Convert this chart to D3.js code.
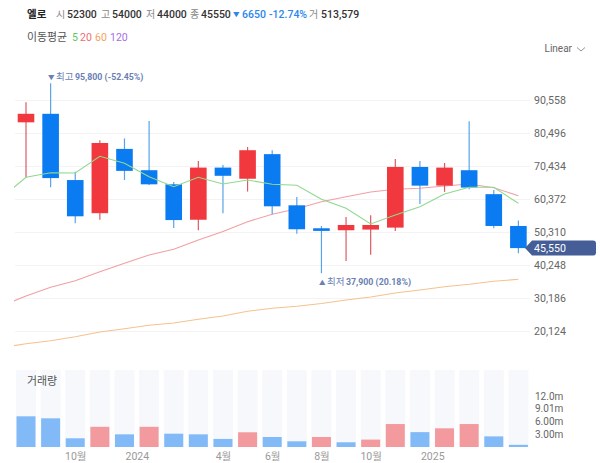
<!DOCTYPE html>
<html>
<head>
<meta charset="utf-8">
<script src="https://cdn.jsdelivr.net/npm/d3@7"></script>
<style>
  html, body { margin: 0; padding: 0; background: #fff; }
  svg { display: block; }
  text { font-family: Roboto, "Noto Sans CJK KR", sans-serif; }
</style>
</head>
<body>
<svg id="chart" width="600" height="463"></svg>
<script>
// monthly candles, Aug 2023 .. Apr 2025
const opens  = [83900, 86500, 66300, 56200, 75800, 69300, 65000, 54200, 70100, 66700, 74200, 58600, 51600, 51000, 51200, 51800, 70300, 64600, 69300, 62000, 52300];
const highs  = [90000, 95800, 68800, 78400, 79000, 84300, 65700, 72100, 70900, 76400, 75400, 61100, 52300, 55000, 55600, 72700, 72100, 71500, 84200, 63300, 54000];
const lows   = [67100, 64100, 53100, 54200, 66300, 64800, 51700, 51000, 56200, 62800, 55900, 49900, 37900, 41600, 43500, 50800, 59000, 62700, 63500, 51600, 44000];
const closes = [86500, 66900, 55250, 77600, 69100, 65000, 54100, 70100, 67600, 75400, 58300, 51300, 50800, 52600, 52600, 70300, 64600, 70100, 64000, 52300, 45550];
const volumes = [7.22, 6.75, 2.05, 4.75, 2.98, 4.75, 3.13, 2.98, 1.9, 3.46, 2.35, 1.34, 2.35, 1.11, 1.74, 5.4, 3.5, 4.4, 5.4, 2.5, 0.51];
// volume bars keep their own colour, it does not always follow the candle
const volumeUp = [0, 0, 0, 1, 0, 1, 0, 0, 0, 1, 0, 0, 1, 0, 1, 1, 0, 1, 1, 0, 0];

// moving averages, first value belongs to the month before the first candle (clipped)
const ma5  = [60900, 67140, 68540, 68450, 73545, 71410, 67325, 64275, 67140, 65100, 66320, 65010, 64700, 60430, 57690, 52900, 55650, 58180, 62050, 64090, 64090, 59210];
const ma20 = [27840, 30950, 33600, 35615, 38360, 40920, 43450, 45190, 48025, 50615, 53600, 55860, 57540, 59700, 61230, 62660, 63480, 63790, 64490, 65100, 63970, 61530];
const ma60 = [15160, 16410, 17320, 18540, 19970, 20980, 22020, 22720, 23850, 24850, 26280, 27200, 27810, 28660, 29730, 30650, 31870, 32780, 33790, 34520, 35430, 36040];

const priceTicks = [90558, 80496, 70434, 60372, 50310, 40248, 30186, 20124];
const volumeTicks = [3, 6, 9.01, 12];
const volumeLabels = ["3.00m", "6.00m", "9.01m", "12.0m"];
const timePositions = [2, 4.5, 8, 10, 12, 14, 16.5];
const timeLabels = ["10월", "2024", "4월", "6월", "8월", "10월", "2025"];

const UP = "#f0383e", DOWN = "#0a7bf0";
const UP_VOL = "#f29a9e", DOWN_VOL = "#82baf8";

const svg = d3.select("#chart");

const x = d3.scaleLinear().domain([0, 20]).range([26, 518.4]);
const y = d3.scaleLinear().domain([20124, 90558]).range([331.5, 100.5]);
const yVol = d3.scaleLinear().domain([0, 12]).range([447, 396]);

svg.append("defs").append("clipPath").attr("id", "plot-clip")
  .append("rect").attr("x", 14).attr("y", 60).attr("width", 516).attr("height", 300);

// price axis + grid
const priceAxis = svg.append("g")
  .attr("transform", "translate(534,0)")
  .call(d3.axisRight(y).tickValues(priceTicks).tickSize(0).tickPadding(0).tickFormat(d3.format(",")));
priceAxis.select(".domain").remove();
priceAxis.selectAll("text").attr("font-size", 10.6).attr("fill", "#666");

svg.append("g").selectAll("line")
  .data(priceTicks)
  .enter()
  .append("line")
  .attr("x1", 15)
  .attr("x2", 530)
  .attr("y1", (d) => y(d))
  .attr("y2", (d) => y(d))
  .attr("stroke", "#f3f3f5");

// moving averages
const maLine = d3.line()
  .x((d, i) => x(i - 1))
  .y((d) => y(d));

const maGroup = svg.append("g").attr("clip-path", "url(#plot-clip)").attr("fill", "none");
maGroup.append("path").attr("d", maLine(ma60)).attr("stroke", "#f5c28f").attr("stroke-width", 1.1);
maGroup.append("path").attr("d", maLine(ma20)).attr("stroke", "#f0a0a4").attr("stroke-width", 1.1);

// candles
const candles = svg.append("g")
  .selectAll("g")
  .data(opens)
  .enter()
  .append("g");

candles.append("line")
  .attr("x1", (d, i) => x(i))
  .attr("x2", (d, i) => x(i))
  .attr("y1", (d, i) => y(highs[i]))
  .attr("y2", (d, i) => y(lows[i]))
  .attr("stroke", (d, i) => (closes[i] >= d ? "#dc5a60" : "#5aa3ea"))
  .attr("stroke-width", 1.2);

candles.append("rect")
  .attr("x", (d, i) => x(i) - 8.3)
  .attr("width", 16.6)
  .attr("y", (d, i) => y(Math.max(d, closes[i])))
  .attr("height", (d, i) => Math.abs(y(d) - y(closes[i])))
  .attr("fill", (d, i) => (closes[i] >= d ? UP : DOWN));

svg.append("g").attr("clip-path", "url(#plot-clip)")
  .append("path")
  .attr("d", maLine(ma5))
  .attr("fill", "none")
  .attr("stroke", "#8fd98f")
  .attr("stroke-width", 1.1);

// high / low notes
function note(mark, label, value, px, py) {
  const g = svg.append("g").attr("fill", "#6a7fb4");
  g.append("text").attr("x", px).attr("y", py - 0.5).attr("font-size", 6.5).text(mark);
  g.append("text").attr("x", px + 8).attr("y", py).attr("font-size", 9.5).text(label);
  g.append("text").attr("x", px + 27).attr("y", py).attr("font-size", 8.8).attr("font-weight", 700).text(value);
}
note("▼", "최고", "95,800 (-52.45%)", 48, 80);
note("▲", "최저", "37,900 (20.18%)", 319, 285);

// last price tag
const lastY = y(closes[closes.length - 1]);
svg.append("path")
  .attr("d", `M525,${lastY} L532,${lastY - 7.5} H593 Q596,${lastY - 7.5} 596,${lastY - 4.5} V${lastY + 4.5} Q596,${lastY + 7.5} 593,${lastY + 7.5} H532 Z`)
  .attr("fill", "#455e97");
svg.append("text")
  .attr("x", 534)
  .attr("y", lastY + 4)
  .attr("fill", "#fff")
  .attr("font-size", 10.6)
  .text(d3.format(",")(closes[closes.length - 1]));

// volume panel
svg.append("g").selectAll("rect")
  .data(volumes)
  .enter()
  .append("rect")
  .attr("x", (d, i) => x(i) - 10)
  .attr("width", 20)
  .attr("y", 370)
  .attr("height", 77)
  .attr("fill", "#f6f8fc");

svg.append("g").selectAll("rect")
  .data(volumes)
  .enter()
  .append("rect")
  .attr("x", (d, i) => x(i) - 9.5)
  .attr("width", 19)
  .attr("y", (d) => yVol(d))
  .attr("height", (d) => yVol(0) - yVol(d))
  .attr("fill", (d, i) => (volumeUp[i] ? UP_VOL : DOWN_VOL));

const volAxis = svg.append("g")
  .attr("transform", "translate(535,0)")
  .call(d3.axisRight(yVol).tickValues(volumeTicks).tickSize(0).tickPadding(0)
    .tickFormat((d, i) => volumeLabels[i]));
volAxis.select(".domain").remove();
volAxis.selectAll("text").attr("font-size", 10).attr("fill", "#666");

svg.append("text").attr("x", 27).attr("y", 384.5).attr("font-size", 10.9).attr("fill", "#555").text("거래량");

// time axis
const timeAxis = svg.append("g")
  .attr("transform", "translate(0,453)")
  .call(d3.axisBottom(x).tickValues(timePositions).tickSize(0).tickPadding(0)
    .tickFormat((d, i) => timeLabels[i]));
timeAxis.select(".domain").remove();
timeAxis.selectAll("text").attr("font-size", 10.5).attr("fill", "#999");

// header
const headerLabels = ["시", "고", "저", "종"];
const headerValues = ["52300", "54000", "44000", "45550"];
const headerX = [56, 101, 146, 190];
svg.append("text").attr("x", 27).attr("y", 17.5).attr("font-size", 10.5).attr("font-weight", 700).attr("fill", "#222").text("엘로");
headerLabels.forEach((d, i) => {
  svg.append("text").attr("x", headerX[i]).attr("y", 17.5).attr("font-size", 10).attr("fill", "#888").text(d);
  svg.append("text").attr("x", headerX[i] + 11).attr("y", 17.5).attr("font-size", 10.5).attr("font-weight", 500).attr("fill", "#333").text(headerValues[i]);
});
svg.append("text").attr("x", 233).attr("y", 17).attr("font-size", 6.5).attr("fill", "#2b86ee").text("▼");
svg.append("text").attr("x", 242).attr("y", 17.5).attr("font-size", 10.5).attr("font-weight", 500).attr("fill", "#2b86ee").text("6650");
svg.append("text").attr("x", 269).attr("y", 17.5).attr("font-size", 10.5).attr("font-weight", 500).attr("fill", "#2b86ee").text("-12.74%");
svg.append("text").attr("x", 309).attr("y", 17.5).attr("font-size", 10).attr("fill", "#888").text("거");
svg.append("text").attr("x", 321).attr("y", 17.5).attr("font-size", 10.5).attr("font-weight", 500).attr("fill", "#333").text("513,579");

// ma legend
const legendNames = ["5", "20", "60", "120"];
const legendColors = ["#5cc95c", "#ee6a78", "#f2a35e", "#a56ee0"];
const legendX = [72, 80, 95, 110];
svg.append("text").attr("x", 27).attr("y", 41).attr("font-size", 10.9).attr("fill", "#555").text("이동평균");
legendNames.forEach((d, i) => {
  svg.append("text").attr("x", legendX[i]).attr("y", 41).attr("font-size", 10.5).attr("fill", legendColors[i]).text(d);
});

svg.append("text").attr("x", 544.5).attr("y", 52).attr("font-size", 10).attr("fill", "#666").text("Linear");
svg.append("path").attr("d", "M577,47.5 L581,51 L585,47.5").attr("fill", "none").attr("stroke", "#777").attr("stroke-width", 0.8);
</script>
</body>
</html>
